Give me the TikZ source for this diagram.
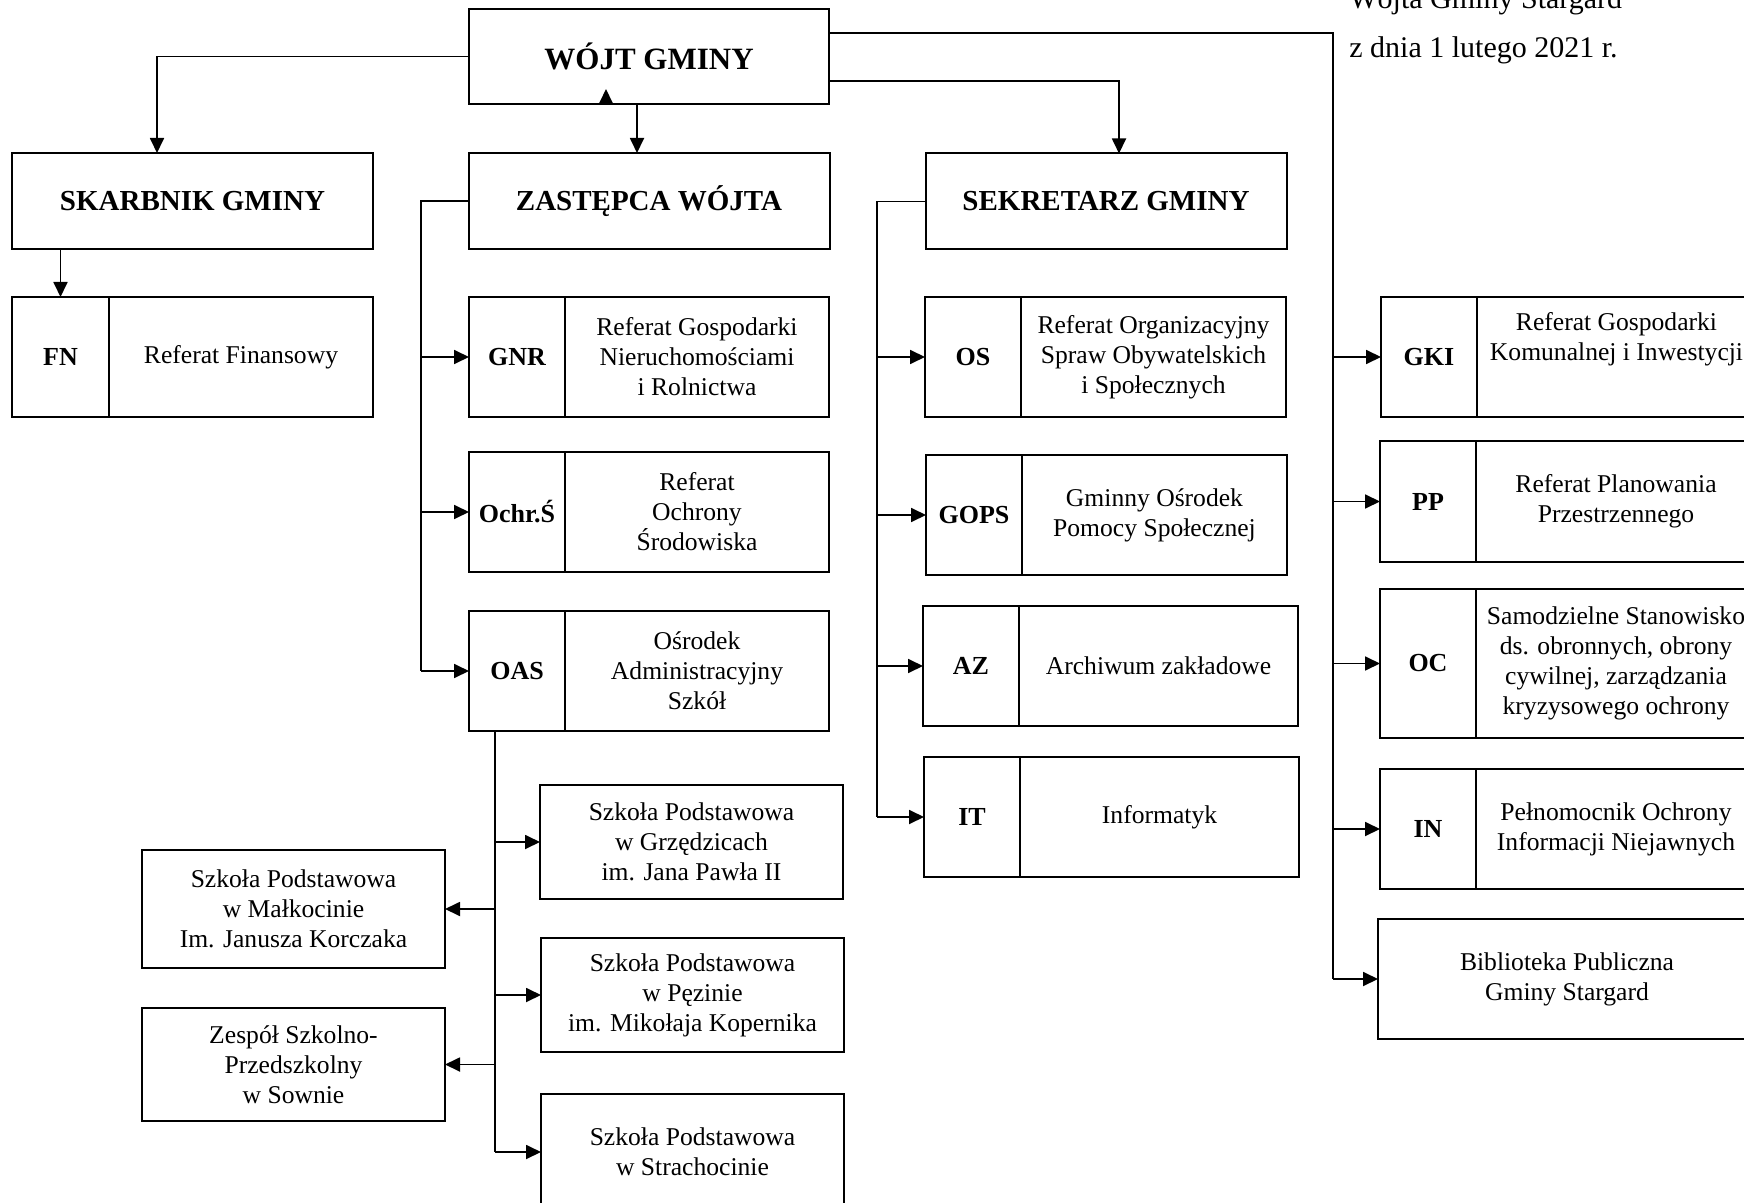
\documentclass[tikz,border=0pt]{standalone}
\usepackage{fontspec}
\setmainfont{Liberation Serif}
\usetikzlibrary{arrows.meta}

\begin{document}
\begin{tikzpicture}[x=0.5pt, y=-0.5pt,
  box/.style={draw, line width=1pt, inner sep=0pt, outer sep=0pt, align=center,
    font=\fontsize{12.8}{15}\selectfont},
  title/.style={box, minimum width=180.5pt, minimum height=48pt,
    font=\fontsize{14.5}{17}\selectfont\bfseries},
  abbr/.style={box, font=\fontsize{13}{15}\selectfont\bfseries},
  school/.style={box, minimum width=151.5pt},
  link/.style={line width=0.9pt},
  arr/.style={link, -{Triangle[length=7.5pt,width=7pt]}},
  note/.style={anchor=base west, inner sep=0pt, font=\fontsize{15}{18}\selectfont}]

\useasboundingbox (0,0) rectangle (1744,1203);

% one pixel of the page
\def\px{0.5pt}

% Unit with a short code cell and a description cell
\newcommand{\unitbox}[8]{
    % #1 name, #2 left, #3 divider, #4 right, #5 top, #6 bottom, #7 code, #8 text
    \node[abbr, minimum width={(#3-#2)*\px}, minimum height={(#6-#5)*\px}]
        (#1) at ({(#2+#3)/2},{(#5+#6)/2}) {#7};
    \node[box, minimum width={(#4-#3)*\px}, minimum height={(#6-#5)*\px}, anchor=west]
        (#1T) at (#1.east) {#8};
}

% Header note (cut by the page edge)
\node[note] (hdrA) at (1349,9) {Wójta Gminy Stargard};
\node[note] (hdrB) at (1349,58) {z dnia 1 lutego 2021 r.};

% Top level
\node[title, minimum width=180pt, minimum height=47.5pt, font=\fontsize{15.5}{18}\selectfont\bfseries]
    (wojt) at (649,56.5) {WÓJT GMINY};
\node[title] (skarb) at (192.5,201) {SKARBNIK GMINY};
\node[title] (zast) at (649,201) {ZASTĘPCA WÓJTA};
\node[title] (sekr) at (1106,201.5) {SEKRETARZ GMINY};

% Treasurer
\unitbox{fn}{12}{109}{373}{297}{417}{FN}{Referat Finansowy}

% Deputy
\unitbox{gnr}{469}{565}{829}{297}{417}{GNR}{Referat Gospodarki\\Nieruchomościami\\i Rolnictwa}
\unitbox{ochr}{469}{565}{829}{452}{572}{Ochr.Ś}{Referat\\Ochrony\\Środowiska}
\unitbox{oas}{469}{565}{829}{611}{731}{OAS}{Ośrodek\\Administracyjny\\Szkół}

% Secretary
\unitbox{os}{925}{1021}{1286}{297}{417}{OS}{Referat Organizacyjny\\Spraw Obywatelskich\\i Społecznych}
\unitbox{gops}{926}{1022}{1287}{455}{575}{GOPS}{Gminny Ośrodek\\Pomocy Społecznej}
\unitbox{az}{923}{1019}{1298}{606}{726}{AZ}{Archiwum zakładowe}
\unitbox{it}{924}{1020}{1299}{757}{877}{IT}{Informatyk}

% Right column
\unitbox{gki}{1381}{1477}{1756}{297}{417}{GKI}{Referat Gospodarki\\Komunalnej i Inwestycji\\[6pt]}
\unitbox{pp}{1380}{1476}{1756}{441}{562}{PP}{Referat Planowania\\Przestrzennego}
\unitbox{oc}{1380}{1476}{1756}{589}{738}{OC}{Samodzielne Stanowisko\\ds. obronnych, obrony\\cywilnej, zarządzania\\kryzysowego ochrony}
\unitbox{niej}{1380}{1476}{1756}{769}{889}{IN}{Pełnomocnik Ochrony\\Informacji Niejawnych}
\node[box, minimum width=189pt, minimum height=60pt] (bib) at (1567,979) {Biblioteka Publiczna\\Gminy Stargard};

% Schools
\node[school, minimum height=57pt] (grz) at (691.5,842) {Szkoła Podstawowa\\w Grzędzicach\\im. Jana Pawła II};
\node[school, minimum height=57pt] (pez) at (692.5,995) {Szkoła Podstawowa\\w Pęzinie\\im. Mikołaja Kopernika};
\node[school, minimum height=58pt] (stra) at (692.5,1152) {Szkoła Podstawowa\\w Strachocinie};
\node[school, minimum height=59pt] (malk) at (293.5,909) {Szkoła Podstawowa\\w Małkocinie\\Im. Janusza Korczaka};
\node[school, minimum height=56.5pt] (sow) at (293.5,1064.5) {Zespół Szkolno-\\Przedszkolny\\w Sownie};

% Bus lines
\coordinate (zbus) at (421,0);
\coordinate (sbus) at (877,0);
\coordinate (rbus) at (1333,0);
\coordinate (obus) at (495,0);

% From the head
\draw[arr] (wojt.west) -| ([xshift=-17.75pt]skarb.north);
\draw[arr] ([xshift=-6pt]wojt.south) -- ([xshift=-6pt]zast.north);
\draw[arr] ([yshift=-12.25pt]wojt.east) -| ([xshift=6.5pt]sekr.north);
\draw[link] ([yshift=11.75pt]wojt.east) -| (rbus |- bib.west);
\draw[arr] ([xshift=-21.5pt]wojt.south) -- ++(0,-15);

% Treasurer
\draw[arr] (skarb.south -| fn.north) -- (fn.north);

% Deputy
\draw[link] (zast.west) -| (zbus |- oas.west);
\foreach \n in {gnr,ochr,oas}
    \draw[arr] (zbus |- \n.west) -- (\n.west);

% Secretary
\draw[link] (sekr.west) -| (sbus |- it.west);
\foreach \n in {os,gops,az,it}
    \draw[arr] (sbus |- \n.west) -- (\n.west);

% Right column
\foreach \n in {gki,pp,oc,niej,bib}
    \draw[arr] (rbus |- \n.west) -- (\n.west);

% Schools
\draw[link] (oas.south -| obus) -- (obus |- stra.west);
\foreach \n in {grz,pez,stra}
    \draw[arr] (obus |- \n.west) -- (\n.west);
\foreach \n in {malk,sow}
    \draw[arr] (obus |- \n.east) -- (\n.east);

\end{tikzpicture}
\end{document}
